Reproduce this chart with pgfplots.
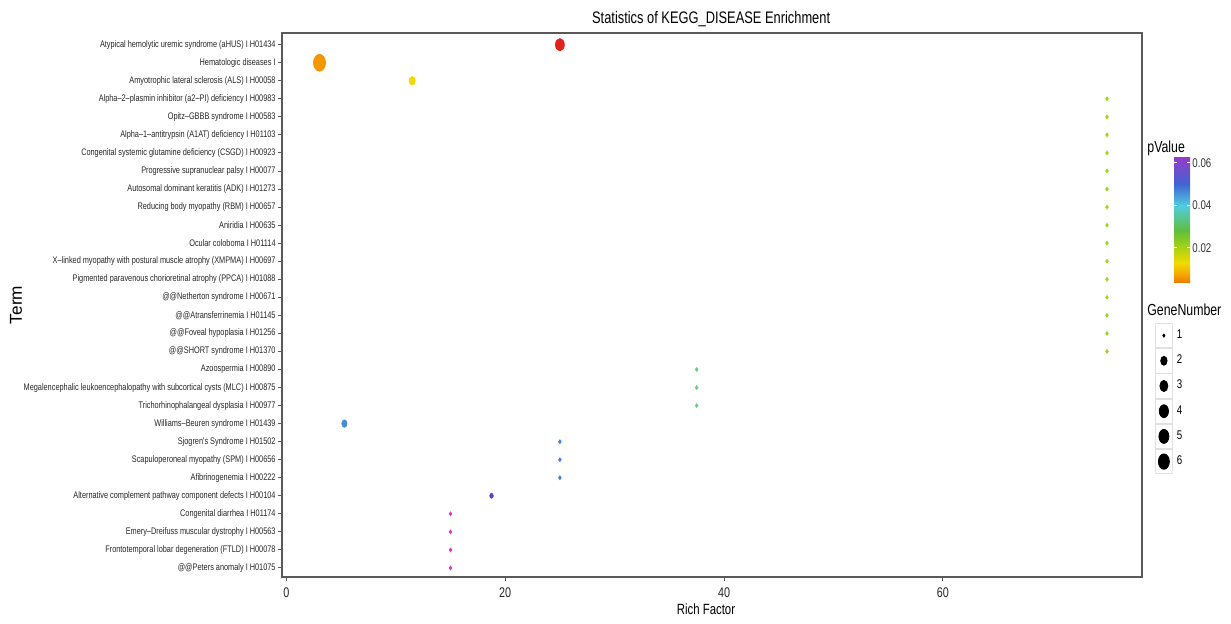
\documentclass[border=0pt]{standalone}
\usepackage{pgfplots}
\pgfplotsset{compat=1.18}
\usepackage{fontspec}
\setmainfont{Liberation Sans}
\newfontfamily\cond[FakeStretch=0.77]{Liberation Sans}
\definecolor{cAHUS}{RGB}{226,34,30}
\definecolor{cHEM}{RGB}{243,150,0}
\definecolor{cALS}{RGB}{245,215,0}
\definecolor{cSEV}{RGB}{160,215,30}
\definecolor{cTHIR}{RGB}{95,212,135}
\definecolor{cWB}{RGB}{70,140,215}
\definecolor{cTWF}{RGB}{70,130,225}
\definecolor{cALT}{RGB}{80,70,200}
\definecolor{cFIF}{RGB}{220,60,200}
\pgfplotsset{sizekey/.style={legend image code/.code={
  \draw[black!12, fill=white, line width=0.4pt] (0pt,-6.1pt) rectangle (8.5pt,6.1pt);
  \fill[black] (4.25pt,0pt) ellipse [x radius=#1, y radius={1.4*#1}];
}}}
\begin{document}
\begin{tikzpicture}
\path[use as bounding box] (-141pt,-23.5pt) rectangle (474.5pt,288.5pt);
\begin{axis}[
  at={(0,0)}, anchor=south west,
  scale only axis, width=430pt, height=272pt,
  clip=false,
  xmin=-0.4, xmax=78.2, ymin=0.5, ymax=30.65,
  xtick={0,20,40,60},
  ytick={1,...,30},
  yticklabels={@@Peters anomaly I H01075,
    Frontotemporal lobar degeneration (FTLD) I H00078,
    Emery–Dreifuss muscular dystrophy I H00563,
    Congenital diarrhea I H01174,
    Alternative complement pathway component defects I H00104,
    Afibrinogenemia I H00222,
    Scapuloperoneal myopathy (SPM) I H00656,
    Sjogren's Syndrome I H01502,
    Williams–Beuren syndrome I H01439,
    Trichorhinophalangeal dysplasia I H00977,
    Megalencephalic leukoencephalopathy with subcortical cysts (MLC) I H00875,
    Azoospermia I H00890,
    @@SHORT syndrome I H01370,
    @@Foveal hypoplasia I H01256,
    @@Atransferrinemia I H01145,
    @@Netherton syndrome I H00671,
    Pigmented paravenous chorioretinal atrophy (PPCA) I H01088,
    X–linked myopathy with postural muscle atrophy (XMPMA) I H00697,
    Ocular coloboma I H01114,
    Aniridia I H00635,
    Reducing body myopathy (RBM) I H00657,
    Autosomal dominant keratitis (ADK) I H01273,
    Progressive supranuclear palsy I H00077,
    Congenital systemic glutamine deficiency (CSGD) I H00923,
    Alpha–1–antitrypsin (A1AT) deficiency I H01103,
    Opitz–GBBB syndrome I H00583,
    Alpha–2–plasmin inhibitor (a2–PI) deficiency I H00983,
    Amyotrophic lateral sclerosis (ALS) I H00058,
    Hematologic diseases I\ ,
    Atypical hemolytic uremic syndrome (aHUS) I H01434},
  yticklabel style={font=\cond\fontsize{4.77}{5}\selectfont, text=black!85, inner sep=1pt},
  xticklabel style={font=\cond\fontsize{7}{8}\selectfont, text=black!85, /pgf/number format/assume math mode=true},
  tick align=outside, xtick pos=left, ytick pos=left,
  major tick length=2pt,
  tick style={black!65, line width=0.5pt},
  axis line style={black!65, line width=0.6pt},
  title={Statistics of KEGG\_DISEASE Enrichment},
  title style={font=\cond\fontsize{8.35}{9}\selectfont, at={(axis description cs:0.499,1.0294)}, anchor=center, yshift=-7pt},
  xlabel={Rich Factor},
  xlabel style={font=\cond\fontsize{7.4}{8}\selectfont, at={(axis description cs:0.493,-0.0588)}, anchor=center},
  ylabel={Term},
  ylabel style={font=\fontsize{8.6}{9}\selectfont, at={(axis description cs:-0.3093,0.5)}, anchor=center},
  colormap={pv}{rgb255(3.5pt)=(240,120,0); rgb255(8pt)=(245,170,0); rgb255(13pt)=(240,220,0); rgb255(20pt)=(170,210,20); rgb255(28pt)=(95,190,60); rgb255(40pt)=(80,205,225); rgb255(50pt)=(65,100,210); rgb255(62.8pt)=(150,60,200)},
  point meta min=0.0035, point meta max=0.0628,
  colorbar,
  colorbar style={
    scale only axis, width=8pt, height=63pt,
    at={(parent axis.north east)}, anchor=north west, xshift=7.5pt, yshift=-62pt,
    ytick={0.02,0.04,0.06}, yticklabels={0.02,0.04,0.06}, scaled y ticks=false,
    yticklabel style={font=\cond\fontsize{6.3}{7}\selectfont, text=black!80, inner sep=1pt},
    tick align=inside, major tick length=1.6pt, tick style={white, line width=0.5pt},
    axis line style={draw=none},
    title={pValue},
    title style={font=\cond\fontsize{8}{9}\selectfont, at={(0,1)}, anchor=south west, xshift=-14.5pt, yshift=-6.5pt, inner sep=1pt}
  },
  legend style={at={(1.0151,0.4669)}, anchor=north west, draw=none, fill=none,
    inner sep=0pt, outer sep=0pt, row sep=0pt, column sep=1.5pt,
    font=\cond\fontsize{6.3}{7}\selectfont, nodes={inner sep=0.5pt}},
  legend cell align=left,
]
% GeneNumber ~ mark size ; colour ~ pValue
\addplot[forget plot, only marks, mark=*, color=cAHUS, mark size=2.2pt, mark options={yscale=1.4}] coordinates {(25,30)};
\addplot[forget plot, only marks, mark=*, color=cHEM, mark size=3.0pt, mark options={yscale=1.4}] coordinates {(3.03,29)};
\addplot[forget plot, only marks, mark=*, color=cALS, mark size=1.5pt, mark options={yscale=1.4}] coordinates {(11.5,28)};
\addplot[forget plot, only marks, mark=*, color=cSEV, mark size=0.65pt, mark options={yscale=1.4}] coordinates {
 (75,27) (75,26) (75,25) (75,24) (75,23) (75,22) (75,21) (75,20) (75,19) (75,18) (75,17) (75,16) (75,15) (75,14) (75,13)};
\addplot[forget plot, only marks, mark=*, color=cTHIR, mark size=0.65pt, mark options={yscale=1.4}] coordinates {(37.5,12) (37.5,11) (37.5,10)};
\addplot[forget plot, only marks, mark=*, color=cWB, mark size=1.3pt, mark options={yscale=1.4}] coordinates {(5.3,9)};
\addplot[forget plot, only marks, mark=*, color=cTWF, mark size=0.65pt, mark options={yscale=1.4}] coordinates {(25,8) (25,7) (25,6)};
\addplot[forget plot, only marks, mark=*, color=cALT, mark size=0.85pt, mark options={yscale=1.4}] coordinates {(18.75,5)};
\addplot[forget plot, only marks, mark=*, color=cFIF, mark size=0.65pt, mark options={yscale=1.4}] coordinates {(15,4) (15,3) (15,2) (15,1)};
\addlegendimage{sizekey=0.55pt}\addlegendentry{1}
\addlegendimage{sizekey=1.6pt}\addlegendentry{2}
\addlegendimage{sizekey=2.0pt}\addlegendentry{3}
\addlegendimage{sizekey=2.3pt}\addlegendentry{4}
\addlegendimage{sizekey=2.5pt}\addlegendentry{5}
\addlegendimage{sizekey=2.75pt}\addlegendentry{6}
\node[anchor=base west, font=\cond\fontsize{8}{9}\selectfont, inner sep=0pt] at (rel axis cs:1,0.4798) [xshift=2.5pt] {GeneNumber};
\end{axis}
\end{tikzpicture}
\end{document}
